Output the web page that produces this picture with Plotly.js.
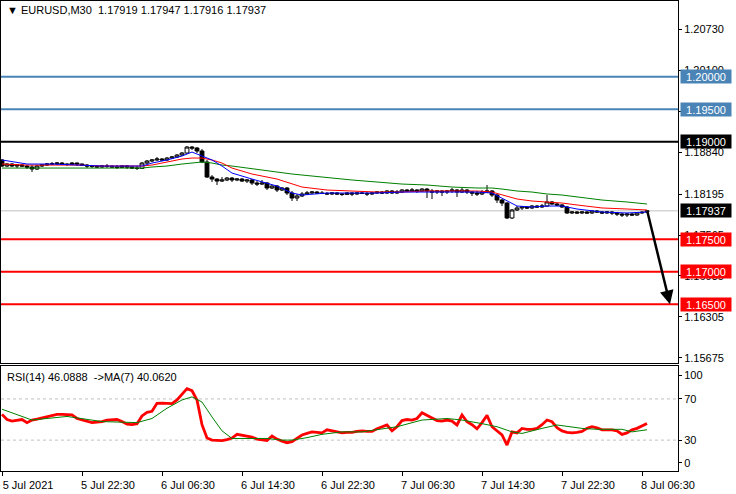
<!DOCTYPE html>
<html><head><meta charset="utf-8">
<script src="https://cdn.plot.ly/plotly-3.0.1.min.js"></script>
<style>html,body{margin:0;padding:0;background:#fff;}#chart{width:736px;height:494px;}</style>
</head><body><div id="chart"></div>
<script>
// ---- Candle data (EURUSD M30, bar 0 = 5 Jul 14:30) ----
const openP = [
1.18719,1.18626,1.18657,1.18626,1.18641,1.18626,1.18611,1.18580,1.18626,1.18641,
1.18657,1.18660,1.18672,1.18657,1.18650,1.18672,1.18657,1.18641,1.18626,1.18620,
1.18611,1.18626,1.18620,1.18611,1.18605,1.18626,1.18611,1.18595,1.18590,1.18672,
1.18703,1.18719,1.18734,1.18719,1.18749,1.18765,1.18795,1.18826,1.18918,1.18903,
1.18857,1.18688,1.18457,1.18426,1.18395,1.18411,1.18441,1.18411,1.18426,1.18395,
1.18411,1.18365,1.18349,1.18365,1.18288,1.18318,1.18257,1.18288,1.18211,1.18134,
1.18165,1.18196,1.18211,1.18226,1.18211,1.18205,1.18196,1.18211,1.18196,1.18190,
1.18211,1.18196,1.18211,1.18205,1.18196,1.18211,1.18226,1.18211,1.18242,1.18211,
1.18226,1.18257,1.18242,1.18257,1.18242,1.18272,1.18242,1.18226,1.18242,1.18226,
1.18242,1.18257,1.18226,1.18257,1.18226,1.18211,1.18196,1.18226,1.18242,1.18180,
1.18103,1.18057,1.17827,1.17950,1.17981,1.17996,1.17981,1.18011,1.17996,1.18011,
1.18073,1.18042,1.18027,1.17996,1.17904,1.17919,1.17904,1.17919,1.17904,1.17934,
1.17919,1.17904,1.17919,1.17904,1.17888,1.17873,1.17888,1.17873,1.17904,1.17919];
const highP = [
1.18734,1.18672,1.18672,1.18657,1.18657,1.18641,1.18641,1.18641,1.18657,1.18672,
1.18688,1.18688,1.18688,1.18672,1.18688,1.18680,1.18665,1.18657,1.18641,1.18641,
1.18641,1.18657,1.18641,1.18641,1.18641,1.18641,1.18626,1.18626,1.18688,1.18719,
1.18734,1.18765,1.18749,1.18765,1.18780,1.18811,1.18841,1.18934,1.18934,1.18918,
1.18888,1.18719,1.18487,1.18441,1.18457,1.18457,1.18457,1.18441,1.18441,1.18426,
1.18426,1.18395,1.18411,1.18380,1.18334,1.18334,1.18303,1.18303,1.18242,1.18196,
1.18226,1.18242,1.18242,1.18242,1.18242,1.18226,1.18226,1.18226,1.18211,1.18226,
1.18226,1.18226,1.18226,1.18226,1.18226,1.18242,1.18242,1.18257,1.18257,1.18257,
1.18272,1.18272,1.18288,1.18272,1.18288,1.18288,1.18272,1.18257,1.18257,1.18257,
1.18288,1.18272,1.18288,1.18272,1.18242,1.18242,1.18257,1.18334,1.18257,1.18196,
1.18119,1.18073,1.17965,1.18011,1.18011,1.18011,1.18027,1.18027,1.18042,1.18180,
1.18088,1.18057,1.18042,1.18011,1.17934,1.17934,1.17934,1.17934,1.17950,1.17950,
1.17934,1.17934,1.17934,1.17919,1.17904,1.17904,1.17904,1.17919,1.17934,1.17947];
const lowP = [
1.18611,1.18611,1.18611,1.18595,1.18611,1.18580,1.18534,1.18564,1.18611,1.18626,
1.18641,1.18641,1.18641,1.18626,1.18641,1.18626,1.18626,1.18595,1.18595,1.18595,
1.18595,1.18595,1.18595,1.18580,1.18595,1.18580,1.18580,1.18564,1.18580,1.18657,
1.18688,1.18703,1.18703,1.18703,1.18734,1.18749,1.18780,1.18811,1.18872,1.18826,
1.18672,1.18441,1.18380,1.18334,1.18380,1.18395,1.18380,1.18395,1.18380,1.18365,
1.18334,1.18318,1.18334,1.18257,1.18272,1.18226,1.18242,1.18180,1.18088,1.18088,
1.18150,1.18180,1.18196,1.18196,1.18196,1.18180,1.18180,1.18180,1.18165,1.18180,
1.18165,1.18180,1.18196,1.18165,1.18180,1.18196,1.18196,1.18196,1.18196,1.18196,
1.18211,1.18226,1.18226,1.18211,1.18226,1.18134,1.18119,1.18196,1.18165,1.18196,
1.18211,1.18150,1.18211,1.18196,1.18165,1.18165,1.18180,1.18211,1.18150,1.18057,
1.18011,1.17811,1.17811,1.17934,1.17950,1.17965,1.17965,1.17981,1.17981,1.17996,
1.18027,1.18011,1.17981,1.17888,1.17888,1.17888,1.17888,1.17888,1.17888,1.17904,
1.17888,1.17888,1.17873,1.17857,1.17842,1.17842,1.17857,1.17857,1.17888,1.17916];
const closeP = [
1.18626,1.18657,1.18626,1.18641,1.18626,1.18611,1.18580,1.18626,1.18641,1.18657,
1.18660,1.18672,1.18657,1.18650,1.18672,1.18657,1.18641,1.18626,1.18620,1.18611,
1.18626,1.18620,1.18611,1.18605,1.18626,1.18611,1.18595,1.18590,1.18672,1.18703,
1.18719,1.18734,1.18719,1.18749,1.18765,1.18795,1.18826,1.18918,1.18903,1.18857,
1.18688,1.18457,1.18426,1.18395,1.18411,1.18441,1.18411,1.18426,1.18395,1.18411,
1.18365,1.18349,1.18365,1.18288,1.18318,1.18257,1.18288,1.18211,1.18134,1.18165,
1.18196,1.18211,1.18226,1.18211,1.18205,1.18196,1.18211,1.18196,1.18190,1.18211,
1.18196,1.18211,1.18205,1.18196,1.18211,1.18226,1.18211,1.18242,1.18211,1.18226,
1.18257,1.18242,1.18257,1.18242,1.18272,1.18242,1.18226,1.18242,1.18226,1.18242,
1.18257,1.18226,1.18257,1.18226,1.18211,1.18196,1.18226,1.18242,1.18180,1.18103,
1.18057,1.17827,1.17950,1.17981,1.17996,1.17981,1.18011,1.17996,1.18011,1.18073,
1.18042,1.18027,1.17996,1.17904,1.17919,1.17904,1.17919,1.17904,1.17934,1.17919,
1.17904,1.17919,1.17904,1.17888,1.17873,1.17888,1.17873,1.17904,1.17915,1.17937];

// ---- Moving averages (read at these bars) ----
const maBars = [0,5,10,15,20,25,28,30,33,36,38,40,42,44,46,50,55,58,60,65,70,75,80,85,90,95,98,100,103,106,109,112,115,120,125,129];
const maBlue = [1.18719,1.18657,1.18657,1.18641,1.18626,1.18626,1.18626,1.18672,1.18719,1.18780,1.18841,1.18780,1.18719,1.18626,1.18518,1.18426,1.18318,1.18211,1.18180,1.18211,1.18211,1.18211,1.18226,1.18226,1.18226,1.18226,1.18211,1.18134,1.18011,1.17996,1.18011,1.18011,1.17965,1.17919,1.17904,1.17919];
const maRed = [1.18657,1.18641,1.18641,1.18641,1.18626,1.18626,1.18626,1.18641,1.18688,1.18734,1.18749,1.18749,1.18719,1.18672,1.18595,1.18503,1.18426,1.18349,1.18303,1.18257,1.18242,1.18226,1.18226,1.18242,1.18242,1.18242,1.18226,1.18180,1.18119,1.18088,1.18073,1.18057,1.18027,1.17981,1.17965,1.17950];
const maGreen = [1.18595,1.18595,1.18595,1.18595,1.18595,1.18595,1.18595,1.18611,1.18626,1.18657,1.18672,1.18688,1.18672,1.18641,1.18626,1.18580,1.18534,1.18503,1.18487,1.18441,1.18411,1.18380,1.18349,1.18334,1.18303,1.18288,1.18288,1.18272,1.18242,1.18226,1.18196,1.18180,1.18150,1.18103,1.18073,1.18042];

// ---- RSI(14) per bar and its MA(7) ----
const rsi = [
55,50,48.5,49,50,47,49.5,50.5,51.5,52.5,
53.5,55,55,55,54.5,51,49.5,48.5,47,47.5,
48,49.5,49.5,50,48,45.5,45,46,53.5,57,
58,65.7,66,66,65.5,69,75,80,78,69,
45,32,30,29.5,29.5,30.5,32,35.6,34.6,34,
33,31,30.5,29.5,34,31,29,27.5,28.5,32,
35,36.5,38,37.5,37,40,39,37.5,37,37.5,
37.5,38.5,39,38.5,38.5,41,43,44.7,39,43,
49,50,49.5,51,56.6,54,51,49,48.5,49.5,
48.5,44.7,54.4,47.8,45,41,47,54,43,39,
35,25.2,38,37,41.4,40.5,40.5,41.4,45,49.5,
47.8,42,39,37.5,37,37.5,38.5,41.4,43,42,
40,40,40,39,35.5,37,40,41.4,44,46.09];
const rsiMaBars = [0,6,13,20,27,30,33,36,38,40,42,44,46,50,53,56,58,61,64,68,72,79,84,89,92,96,99,102,104,108,111,116,119,124,126,129];
const rsiMa = [60,49.5,53,48,47,51,61,69,72,67,52.5,39,31.6,31.6,31.6,30,30,32.4,35.6,38,38,43,49.5,51,49.5,46,43,38,36.5,41.4,44.7,41.4,40.5,40.5,38,40.06];

// ---- Axes labels ----
const timeTickBars = [0,16,32,48,64,80,96,112,128];
const timeTickText = ["5 Jul 2021","5 Jul 22:30","6 Jul 06:30","6 Jul 14:30","6 Jul 22:30","7 Jul 06:30","7 Jul 14:30","7 Jul 22:30","8 Jul 06:30"];
const priceTicks = [1.20730,1.20100,1.19470,1.18840,1.18195,1.17565,1.16935,1.16305,1.15675];
const priceTickText = ["1.20730","1.20100","1.19470","1.18840","1.18195","1.17565","1.16935","1.16305","1.15675"];
const rsiTickPos = [93,70,30,8];
const rsiTickText = ["100","70","30","0"];

// ---- Levels ----
const levelPrices = [1.20000,1.19500,1.19000,1.17500,1.17000,1.16500];
const currentPrice = 1.17937;
const rsiLevels = [70,30];
const arrowFrom = {bar:129, price:1.1795};
const arrowTo = {bar:133.6, price:1.1650};

const levelStyle = {1.2:'#4a84b6',1.195:'#4a84b6',1.19:'#000000',1.175:'#ff0000',1.17:'#ff0000',1.165:'#ff0000'};

const bars = openP.map((_, i) => i);
const FONT = '"Liberation Sans", Arial, sans-serif';

const traces = [
  {type:'candlestick', x:bars, open:openP, high:highP, low:lowP, close:closeP, xaxis:'x', yaxis:'y',
   increasing:{line:{color:'#000',width:1}, fillcolor:'#ffffff'},
   decreasing:{line:{color:'#000',width:1}, fillcolor:'#000000'},
   whiskerwidth:0, hoverinfo:'skip'},
  {type:'scatter', mode:'lines', x:maBars, y:maGreen, xaxis:'x', yaxis:'y', line:{color:'#008000',width:1}, hoverinfo:'skip'},
  {type:'scatter', mode:'lines', x:maBars, y:maRed, xaxis:'x', yaxis:'y', line:{color:'#ff0000',width:1}, hoverinfo:'skip'},
  {type:'scatter', mode:'lines', x:maBars, y:maBlue, xaxis:'x', yaxis:'y', line:{color:'#0000ff',width:1}, hoverinfo:'skip'},
  {type:'scatter', mode:'lines', x:bars, y:rsi, xaxis:'x2', yaxis:'y2', line:{color:'#ff0000',width:2.8}, hoverinfo:'skip'},
  {type:'scatter', mode:'lines', x:rsiMaBars, y:rsiMa, xaxis:'x2', yaxis:'y2', line:{color:'#008000',width:1}, hoverinfo:'skip'}
];

const shapes = [];
levelPrices.forEach(p => shapes.push({type:'line', xref:'paper', x0:0, x1:1, yref:'y', y0:p, y1:p, line:{color:levelStyle[p], width:2}}));
shapes.push({type:'line', xref:'paper', x0:0, x1:1, yref:'y', y0:currentPrice, y1:currentPrice, line:{color:'#c0c0c0', width:1}, layer:'below'});
rsiLevels.forEach(v => shapes.push({type:'line', xref:'paper', x0:0, x1:1, yref:'y2', y0:v, y1:v, line:{color:'#c0c0c0', width:1, dash:'3px,3px'}, layer:'below'}));

const annotations = [
  {xref:'paper', yref:'paper', x:0, y:1, xanchor:'left', yanchor:'top', xshift:4, yshift:-1, showarrow:false,
   text:'\u25BC EURUSD,M30\u00a0\u00a01.17919 1.17947 1.17916 1.17937', font:{family:FONT, size:11, color:'#000'}},
  {xref:'paper', yref:'paper', x:0, y:0.2234, xanchor:'left', yanchor:'top', xshift:4, yshift:-3, showarrow:false,
   text:'RSI(14) 46.0888\u00a0\u00a0->MA(7) 40.0620', font:{family:FONT, size:11, color:'#000'}}
];
levelPrices.forEach(p => annotations.push({xref:'paper', x:1, xanchor:'left', xshift:2, yref:'y', y:p, yanchor:'middle',
  text:p.toFixed(5), showarrow:false, bgcolor:levelStyle[p], font:{family:FONT, size:11, color:'#fff'}, width:50, height:13, borderpad:0}));
annotations.push({xref:'paper', x:1, xanchor:'left', xshift:2, yref:'y', y:currentPrice, yanchor:'middle',
  text:currentPrice.toFixed(5), showarrow:false, bgcolor:'#000', font:{family:FONT, size:11, color:'#fff'}, width:50, height:13, borderpad:0});
annotations.push({xref:'x', yref:'y', x:arrowTo.bar, y:arrowTo.price, axref:'x', ayref:'y', ax:arrowFrom.bar, ay:arrowFrom.price,
  text:'', showarrow:true, arrowhead:2, arrowsize:1.1, arrowwidth:2.5, arrowcolor:'#000'});

const axBase = {showgrid:false, zeroline:false, showline:true, mirror:true, linecolor:'#000', linewidth:1, fixedrange:true,
  tickfont:{family:FONT, size:11, color:'#000'}, tickcolor:'#000'};

const layout = {
  width:736, height:494,
  margin:{l:1, r:58, t:1, b:23, pad:0},
  paper_bgcolor:'#fff', plot_bgcolor:'#fff',
  showlegend:false, hovermode:false,
  boxgap:0.15, boxgroupgap:0.1,
  font:{family:FONT, size:11, color:'#000'},
  xaxis:Object.assign({}, axBase, {domain:[0,1], anchor:'y', range:[-0.2,135.2], showticklabels:false, ticks:'', rangeslider:{visible:false}}),
  yaxis:Object.assign({}, axBase, {domain:[0.2298,1], anchor:'x', side:'right', range:[1.15597,1.21164],
    tickmode:'array', tickvals:priceTicks, ticktext:priceTickText, ticks:'outside', ticklen:3}),
  xaxis2:Object.assign({}, axBase, {domain:[0,1], anchor:'y2', range:[-0.2,135.2], tickmode:'array', tickvals:timeTickBars, ticktext:timeTickText,
    ticks:'outside', ticklen:4, ticklabelshift:26, rangeslider:{visible:false}}),
  yaxis2:Object.assign({}, axBase, {domain:[0,0.2234], anchor:'x2', side:'right', range:[0,102],
    tickmode:'array', tickvals:rsiTickPos, ticktext:rsiTickText, ticks:'outside', ticklen:3}),
  shapes:shapes, annotations:annotations
};

Plotly.newPlot('chart', traces, layout, {staticPlot:true, displayModeBar:false});
</script></body></html>
